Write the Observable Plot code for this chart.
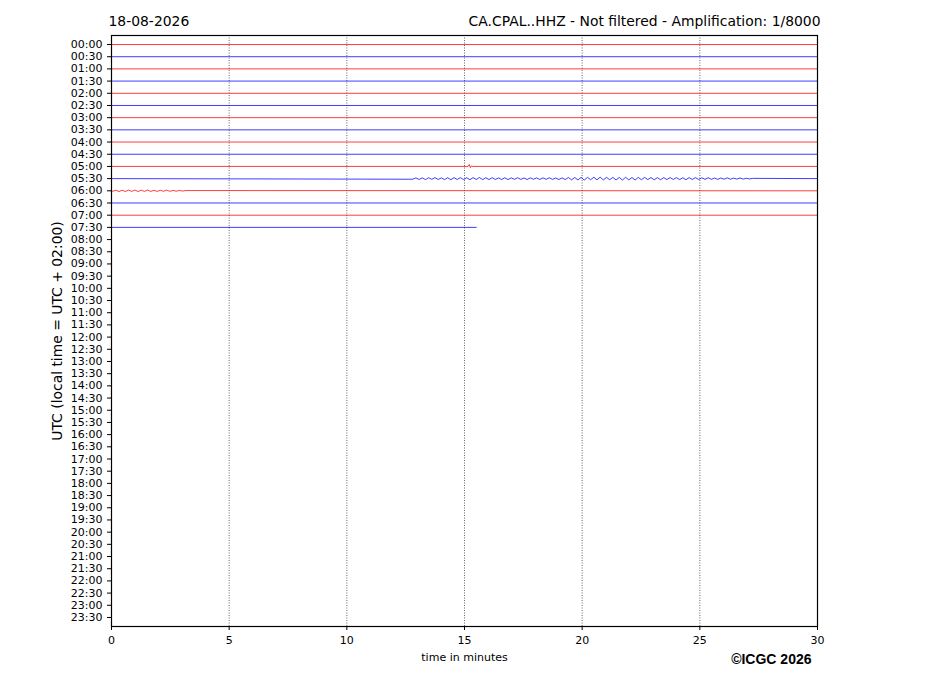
<!DOCTYPE html>
<html>
<head>
<meta charset="utf-8">
<script src="https://cdn.jsdelivr.net/npm/d3@7"></script>
<script src="https://cdn.jsdelivr.net/npm/@observablehq/plot@0.6"></script>
<style>
  body { margin: 0; background: #fff; }
</style>
</head>
<body>
<div id="chart"></div>
<script>
/*
    HELICORDER CA.CPAL..HHZ
*/
const rowLabels = [
    "00:00", "00:30", "01:00", "01:30", "02:00", "02:30", "03:00", "03:30",
    "04:00", "04:30", "05:00", "05:30", "06:00", "06:30", "07:00", "07:30",
    "08:00", "08:30", "09:00", "09:30", "10:00", "10:30", "11:00", "11:30",
    "12:00", "12:30", "13:00", "13:30", "14:00", "14:30", "15:00", "15:30",
    "16:00", "16:30", "17:00", "17:30", "18:00", "18:30", "19:00", "19:30",
    "20:00", "20:30", "21:00", "21:30", "22:00", "22:30", "23:00", "23:30"
];

// minutes of signal recorded in each row so far
const traceEnds = [30, 30, 30, 30, 30, 30, 30, 30, 30, 30, 30, 30, 30, 30, 30, 15.5];

const minuteTicks = [0, 5, 10, 15, 20, 25, 30];
const gridMinutes = [5, 10, 15, 20, 25];

// visible signal, in row heights (positive = downwards)
const blip0500 = [0, -0.16, 0.1, -0.05, 0];
const wiggle0530 = [
    0.05, -0.06, 0.07, -0.06, 0.08, -0.07, 0.06, -0.08, 0.07, -0.06, 0.08, -0.07, 0.09, -0.08, 0.07, -0.08,
    0.08, -0.07, 0.09, -0.08, 0.07, -0.09, 0.08, -0.07, 0.08, -0.08, 0.07, -0.06, 0.07, -0.07, 0.08, -0.06,
    0.06, -0.07, 0.06, -0.05, 0.07, -0.06, 0.05, -0.06, 0.07, -0.06, 0.06, -0.07, 0.06, -0.05, 0.07, -0.06,
    0.08, -0.09, 0.10, -0.09, 0.11, -0.10, 0.12, -0.10, 0.09, -0.11, 0.10, -0.12, 0.11, -0.10, 0.09, -0.10,
    0.11, -0.10, 0.12, -0.11, 0.10, -0.09, 0.11, -0.10, 0.09, -0.10, 0.08, -0.09, 0.10, -0.08, 0.09, -0.08,
    0.08, -0.09, 0.07, -0.08, 0.08, -0.07, 0.09, -0.08, 0.07, -0.08, 0.07, -0.06, 0.06, -0.07, 0.06, -0.05,
    0.06, -0.05, 0.05, -0.06, 0.05, -0.04, 0.04, -0.05, 0.04, -0.03, 0.03, -0.02
];
const wiggle0600 = [
    0.04, -0.05, 0.06, -0.05, 0.06, -0.06, 0.05, -0.06, 0.06, -0.05, 0.05, -0.06,
    0.05, -0.04, 0.05, -0.04, 0.04, -0.05, 0.04, -0.03, 0.03, -0.03, 0.02, -0.02
];

const wiggles = [
    { row: 10, start: 15.15, step: 0.05, values: blip0500 },
    { row: 11, start: 12.8, step: 0.135, values: wiggle0530 },
    { row: 12, start: 0.05, step: 0.135, values: wiggle0600 }
];

function getTraceTable() {
    const table = [];
    traceEnds.forEach((end, row) => {
        table.push({ row, t: 0, v: 0 });
        wiggles.filter(w => w.row == row).forEach(w => {
            w.values.forEach((v, k) => table.push({ row, t: w.start + k * w.step, v }));
        });
        table.push({ row, t: end, v: 0 });
    });
    return table;
}

function getPlot_Helicorder() {
    const traces = getTraceTable();
    return Plot.plot({
        width: 927,
        height: 696,
        marginLeft: 111,
        marginRight: 110,
        marginTop: 35,
        marginBottom: 70,
        style: { fontFamily: "DejaVu Sans", fontSize: "11px", color: "#000", background: "#fff" },
        x: { domain: [0, 30] },
        y: { domain: [-0.74, 47.74], reverse: true },
        marks: [
            Plot.ruleX(gridMinutes, { stroke: "#000", strokeWidth: 0.6, strokeDasharray: "1,1.5" }),
            Plot.line(traces, { filter: d => d.row % 2 == 0, x: "t", y: d => d.row + d.v, z: "row", stroke: "#ff0000", strokeWidth: 0.9, strokeOpacity: 0.85 }),
            Plot.line(traces, { filter: d => d.row % 2 == 1, x: "t", y: d => d.row + d.v, z: "row", stroke: "#0000ff", strokeWidth: 0.9, strokeOpacity: 0.85 }),
            Plot.axisX({ ticks: minuteTicks, tickSize: 4, tickPadding: 6, fontSize: 11, label: null }),
            Plot.axisY({ ticks: d3.range(rowLabels.length), tickFormat: i => rowLabels[i], tickSize: 4, tickPadding: 5, fontSize: 11, label: null }),
            Plot.frame({ stroke: "#000", strokeWidth: 1.2 }),
            Plot.text(["18-08-2026"], { frameAnchor: "top-left", textAnchor: "start", dx: -3, dy: -19, fontSize: 13.9 }),
            Plot.text(["CA.CPAL..HHZ - Not filtered - Amplification: 1/8000"], { frameAnchor: "top-right", textAnchor: "end", dx: 3, dy: -19, fontSize: 13.9 }),
            Plot.text(["UTC (local time = UTC + 02:00)"], { frameAnchor: "left", textAnchor: "middle", rotate: -90, dx: -54, fontSize: 13.9 }),
            Plot.text(["time in minutes"], { frameAnchor: "bottom", dy: 34, fontSize: 11 }),
            Plot.text(["\u00a9ICGC 2026"], { frameAnchor: "bottom-right", textAnchor: "end", dx: -6, dy: 37, fontSize: 14, fontWeight: "bold", fontFamily: "Liberation Sans" })
        ]
    });
}

document.getElementById("chart").append(getPlot_Helicorder());
</script>
</body>
</html>
